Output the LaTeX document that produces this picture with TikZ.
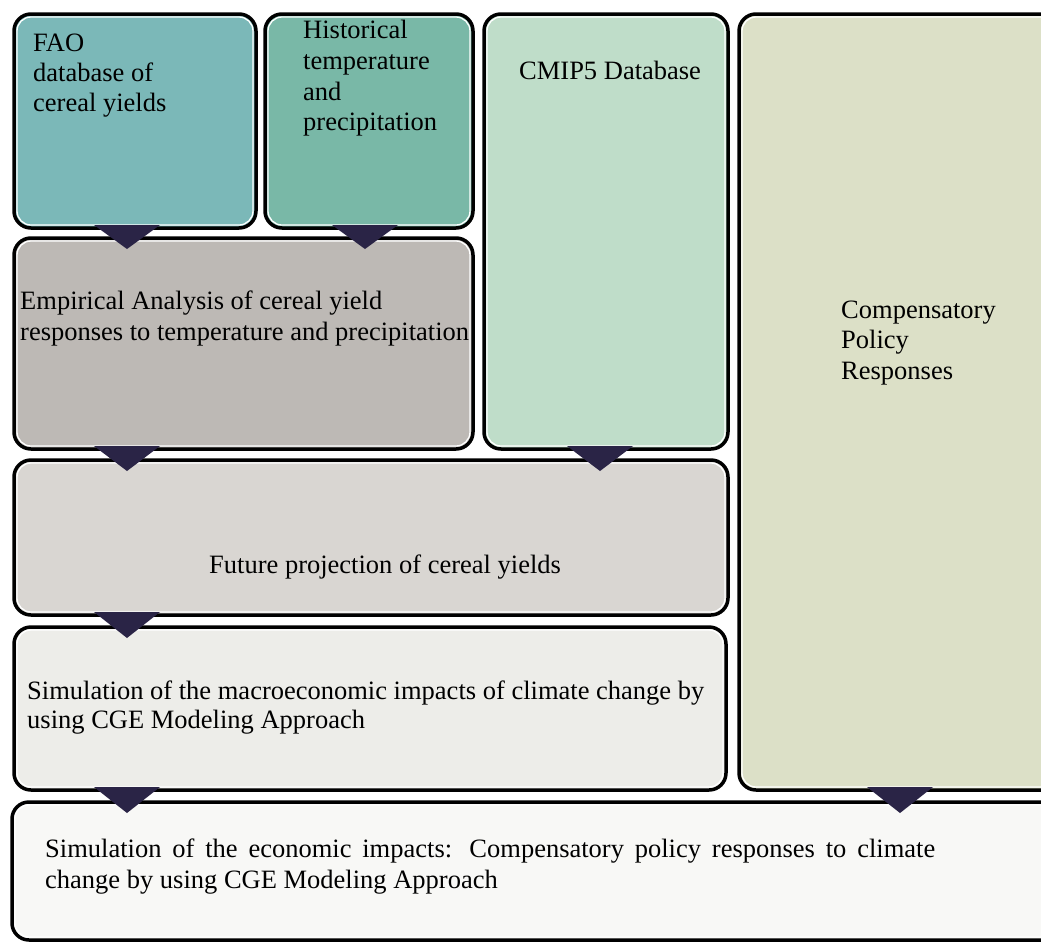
\documentclass[tikz,border=0pt]{standalone}
\usepackage{fontspec}
\setmainfont{Liberation Serif}
\usetikzlibrary{calc}
\definecolor{faoc}{HTML}{7BB8B8}
\definecolor{histc}{HTML}{79B8A7}
\definecolor{cmipc}{HTML}{BFDDC9}
\definecolor{compc}{HTML}{DCE0C7}
\definecolor{empc}{HTML}{BDB9B5}
\definecolor{futc}{HTML}{D9D6D2}
\definecolor{macc}{HTML}{EDEDE9}
\definecolor{econc}{HTML}{F8F8F6}
\definecolor{arrowc}{HTML}{2A2446}
\tikzset{
  box/.style={draw=black, line width=3.5pt, rounded corners=17pt, anchor=north west, inner sep=0pt, outer sep=0pt},
  glow/.style={draw=white, line width=1.3pt, rounded corners=14pt},
  txt/.style={anchor=base west, inner sep=0pt, font=\fontsize{26.5}{30.5}\selectfont},
  arrowfill/.style={fill=arrowc}
}
\newcommand\mkbox[6]{% name, x1, y1, x2, y2, colour
  \node[box, fill=#6, minimum width={(#4-#2)*1pt}, minimum height={(#5-#3)*1pt}] (#1) at (#2,#3) {};
  \draw[glow] ($(#1.north west)+(3,3)$) rectangle ($(#1.south east)+(-3,-3)$);
}
\newcommand\flowarr[3]{% x, upper node, lower node
  \fill[arrowfill] ($(#1,0 |- #2.south)+(-33,-3)$) -- ($(#1,0 |- #2.south)+(33,-3)$) -- ($(#1,0 |- #3.north)+(0,11)$) -- cycle;
}
\begin{document}
\begin{tikzpicture}[x=1pt,y=-1pt]
\useasboundingbox (0,0) rectangle (1041,943);
\clip (0,0) rectangle (1041,943);
\fill[white] (0,0) rectangle (1041,943);
% boxes
\mkbox{fao}{14}{14}{256}{228}{faoc}
\mkbox{hist}{265}{14}{473}{228}{histc}
\mkbox{cmip}{484}{14}{728}{449}{cmipc}
\mkbox{comp}{739}{14}{1070}{790}{compc}
\mkbox{emp}{14}{238}{473}{449}{empc}
\mkbox{fut}{14}{460}{728}{615}{futc}
\mkbox{mac}{14}{627}{726}{790}{macc}
\mkbox{econ}{12}{802}{1070}{940}{econc}
% texts
\node[txt] (faoA) at (33,51) {FAO};
\node[txt] (faoB) at (33,81) {database of};
\node[txt] (faoC) at (33,111) {cereal yields};
\node[txt] (histA) at (303,38) {Historical};
\node[txt] (histB) at (303,69) {temperature};
\node[txt] (histC) at (303,100) {and};
\node[txt] (histD) at (303,130) {precipitation};
\node[txt] (cmipA) at (519,79) {CMIP5 Database};
\node[txt] (empA) at (20,309) {Empirical Analysis of cereal yield};
\node[txt] (empB) at (20,340) {responses to temperature and precipitation};
\node[txt] (compA) at (841,318) {Compensatory};
\node[txt] (compB) at (841,348) {Policy};
\node[txt] (compC) at (841,379) {Responses};
\node[txt] (futA) at (209,573) {Future projection of cereal yields};
\node[txt] (macA) at (27,699) {Simulation of the macroeconomic impacts of climate change by};
\node[txt] (macB) at (27,728) {using CGE Modeling Approach};
\node[txt] (econA) at (45,857) {\makebox[890pt][s]{Simulation of the economic impacts: Compensatory policy responses to climate}};
\node[txt] (econB) at (45,888) {change by using CGE Modeling Approach};
% arrows
\flowarr{127}{fao}{emp}
\flowarr{365}{hist}{emp}
\flowarr{127}{emp}{fut}
\flowarr{600}{cmip}{fut}
\flowarr{127}{fut}{mac}
\flowarr{127}{mac}{econ}
\flowarr{900}{comp}{econ}
\end{tikzpicture}
\end{document}
